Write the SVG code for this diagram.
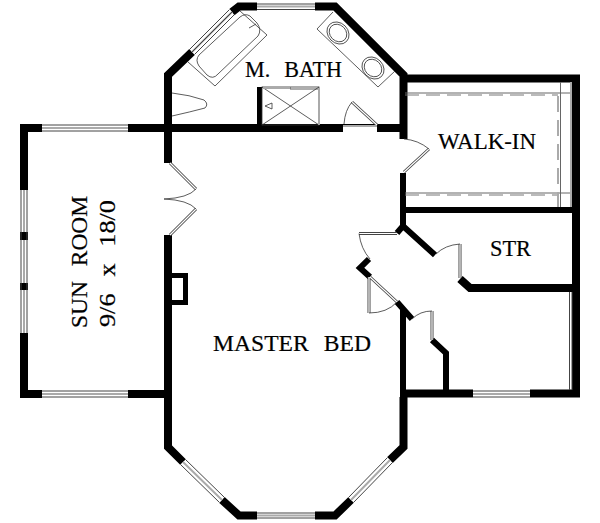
<svg xmlns="http://www.w3.org/2000/svg" width="600" height="523" viewBox="0 0 600 523">
<style>
.w{fill:none;stroke:#000;stroke-width:8;stroke-linejoin:miter;stroke-linecap:butt}
.w2{fill:none;stroke:#000;stroke-width:6;stroke-linecap:butt;stroke-linejoin:miter}
.wo{fill:none;stroke:#444;stroke-width:1}
.wg{fill:none;stroke:#aaa;stroke-width:2}
.t{fill:none;stroke:#333;stroke-width:.8}
.s{fill:none;stroke:#666;stroke-width:1}
.leaf{fill:none;stroke:#444;stroke-width:3}
.leafi{fill:none;stroke:#fff;stroke-width:1.2}
.lb{font-family:"Liberation Serif",serif;font-size:23px;word-spacing:9px;fill:#000;stroke:#000;stroke-width:.2}
</style>
<rect width="600" height="523" fill="#fff"/>
<g id="connectors"></g>
<g id="walls">
<path class="w" d="M128 128H403M168 128V163M168 235V447L183 462M222 500L239 515.500H257M315 515.500H335L351 500M390 460L403.500 447V397"/>
<path class="w" d="M42 128H24V190M24 333V394H42M128 394H168M20 128H24"/>
<rect x="20" y="232" width="8" height="8"/><rect x="20" y="283" width="8" height="7"/>
<path class="w" d="M168 128V75L192 52M232 12L239 6.500H257M315 6.500H335L403.500 75V139"/>
<path class="w" d="M403 78.500H576V393.500H530M473 393.500H403"/>
<path class="w2" d="M403 210H573M403 173V226M397 233L403 226L435 255"/>
<path class="w2" d="M369 259L360 268L370 277M397 302L412 319M403 310V430"/>
<path class="w" d="M460 279L470 288H573"/>
<path class="w2" d="M432 340L446 353V392"/>
<path fill="none" stroke="#000" stroke-width="5" d="M172 275.500H185.500V302.500H172"/>
<path fill="none" stroke="#000" stroke-width="5" d="M259.500 87V125"/>
</g>
<g id="windows">
<path class="wg" d="M42 128H128M42 394H128M257 6.500H315M257 515.500H315M473 394H530M24 190V232M24 240V283M24 290V333M183 462L222 500M351 500L390 460M192 52L232 12"/>
<path class="wo" d="M42 125H128M42 131H128M42 391H128M42 397H128M257 4H315M257 9.500H315M257 513H315M257 518H315M473 391H530M473 397H530M21 190V333M27 190V333"/>
<path class="wo" d="M180.500 464.500L219.500 502.500M185.500 459.500L224.500 497.500M348.500 497.500L387.500 457.500M353.500 502.500L392.500 462.500M189.500 49.500L229.500 9.500M194.500 54.500L234.500 14.500M192 52L232 12"/>
<path class="wo" d="M569.500 292V390M572 292V390"/>
</g>
<g id="doors">
<path class="leaf" d="M170 163L196 189M170 235L196 209M404 172L429 149M397 233.500H359M369 277V313M370 277L397 302M460 244V278M432 311V340M352 102L377 125"/>
<path class="leafi" d="M170 163L196 189M170 235L196 209M404 172L429 149M397 233.500H359M369 277V313M370 277L397 302M460 244V278M432 311V340M352 102L377 125"/>
<path class="t" d="M196 189Q188 198 164 199Q188 200 196 209M429 149Q418 140 404 139M359 233.500Q361 249 370 259M369 313Q387 313 397 302M436 254Q445 245 460 244M412 319Q420 311 432 311M352 102Q345 110 344 124"/>
<path fill="#fff" d="M343 125H377V132H343z"/>
<path class="wg" d="M343 126H377"/>
</g>
<g id="fixtures">
<path class="t" d="M240 11L267 35L215 86L188 62"/>
<path class="t" d="M250 16L257 23Q262 30 258 36L218 74Q213 80 207 75L199 66Q195 60 199 55L240 17Q245 13 250 16ZM249 28L256 24"/>
<path class="t" d="M333 12L317 29L378 87L395 71"/>
<ellipse class="t" cx="338" cy="33" rx="12" ry="10" transform="rotate(45 338 33)"/><ellipse class="t" cx="338" cy="33" rx="9.500" ry="8" transform="rotate(45 338 33)"/>
<ellipse class="t" cx="373" cy="68" rx="12" ry="10" transform="rotate(45 373 68)"/><ellipse class="t" cx="373" cy="68" rx="9.500" ry="8" transform="rotate(45 373 68)"/>
<path class="t" d="M172 93Q190 95 204 100Q209 104 205 108Q190 112 172 116"/>
<rect class="t" x="262" y="87" width="57" height="38"/>
<path class="t" d="M262 87L319 125M319 87L262 125M290 87V89H319M265 106L272 103V109Z"/>
<path class="wg" d="M263 88H290M319 88V125"/>
<path class="s" d="M405 93H572M405 193H572M560.500 82V207"/>
<path d="M405 95H558M405 195H558" fill="none" stroke="#777" stroke-width="1" stroke-dasharray="14 7"/>
<path d="M558 96V207" fill="none" stroke="#aaa" stroke-width="2" stroke-dasharray="16 8"/>
<path class="wg" d="M571 82V207"/>
</g>
<g id="labels">
<text class="lb" x="245" y="77" textLength="97" lengthAdjust="spacingAndGlyphs">M. BATH</text>
<text class="lb" x="438" y="149" textLength="98" lengthAdjust="spacingAndGlyphs">WALK-IN</text>
<text class="lb" x="490" y="256" textLength="41" lengthAdjust="spacingAndGlyphs">STR</text>
<text class="lb" x="213" y="351" textLength="158" lengthAdjust="spacingAndGlyphs">MASTER BED</text>
<text class="lb" transform="translate(87 328) rotate(-90)" textLength="132" lengthAdjust="spacingAndGlyphs">SUN ROOM</text>
<text class="lb" transform="translate(115 327) rotate(-90)" textLength="127" lengthAdjust="spacingAndGlyphs">9/6 x 18/0</text>
</g>
</svg>
